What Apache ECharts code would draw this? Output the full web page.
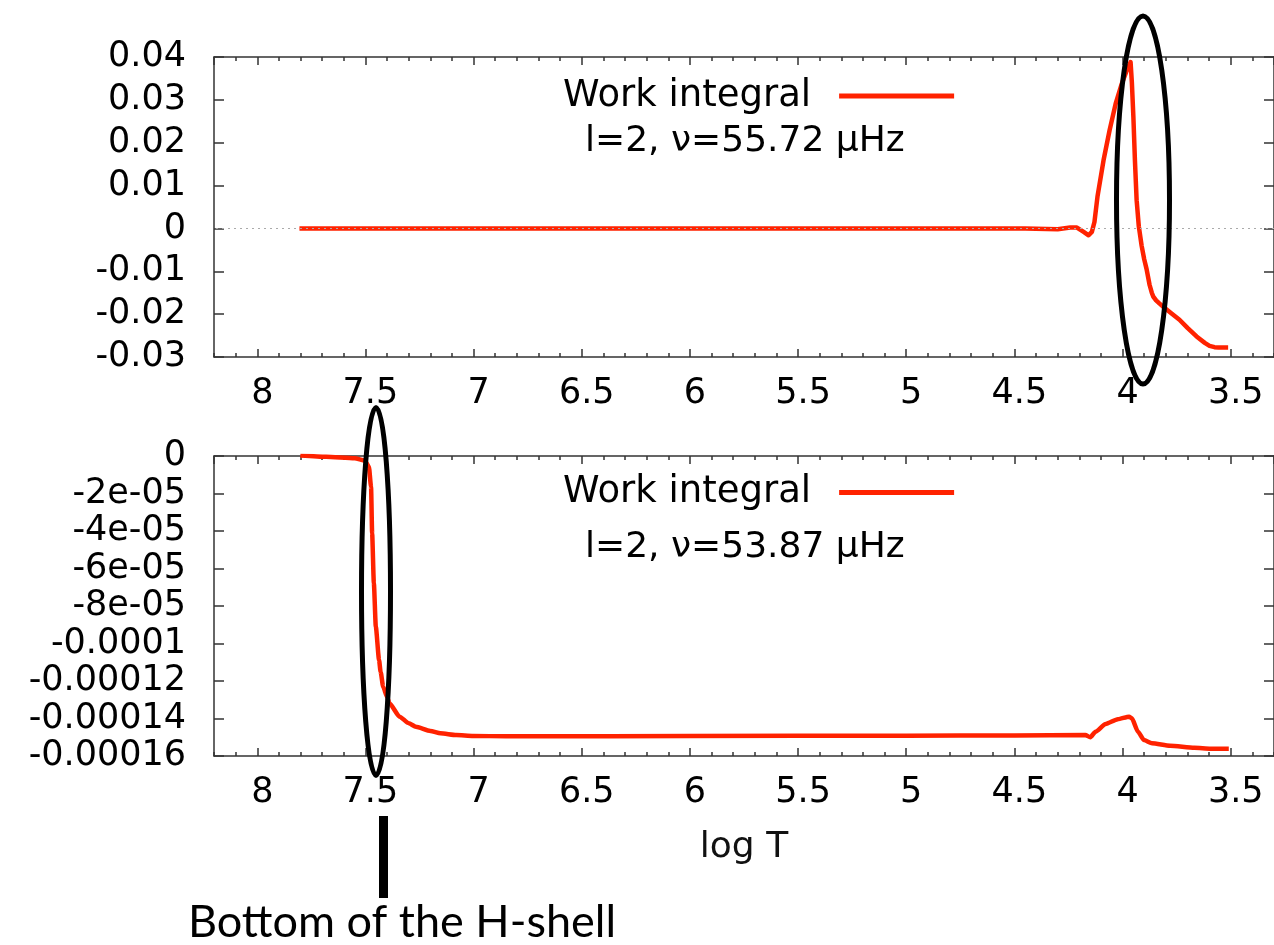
<!DOCTYPE html>
<html>
<head>
<meta charset="utf-8">
<script src="https://cdn.jsdelivr.net/npm/echarts@6/dist/echarts.min.js"></script>
<style>
html,body{margin:0;padding:0;background:#fff;}
#chart{width:1274px;height:945px;}
</style>
</head>
<body>
<div id="chart"></div>
<script>
// ---- data ----
const topLogT = [7.805, 7.5, 7.0, 6.5, 6.0, 5.5, 5.0, 4.6, 4.45, 4.40, 4.30, 4.242, 4.211, 4.18, 4.157, 4.142, 4.130, 4.116, 4.088, 4.060, 4.032, 4.004, 3.981, 3.963, 3.957, 3.950, 3.943, 3.935, 3.925, 3.912, 3.900, 3.889, 3.875, 3.865, 3.858, 3.845, 3.830, 3.812, 3.775, 3.737, 3.70, 3.658, 3.62, 3.598, 3.575, 3.556, 3.512];
const topWork = [0, 0, 0, 0, 0, 0, 0, 0, 0, -0.0001, -0.0002, 0.0002, 0.0002, -0.0008, -0.0016, -0.0008, 0.0015, 0.0074, 0.0159, 0.0229, 0.0291, 0.0337, 0.0368, 0.0388, 0.034, 0.026, 0.016, 0.0066, 0.0005, -0.004, -0.0072, -0.0095, -0.0132, -0.0150, -0.0159, -0.0168, -0.0175, -0.0183, -0.0198, -0.0213, -0.0232, -0.0252, -0.0267, -0.0274, -0.0277, -0.0278, -0.0278];

const botLogT = [7.801, 7.682, 7.55, 7.503, 7.484, 7.474, 7.469, 7.461, 7.452, 7.437, 7.43, 7.418, 7.40, 7.389, 7.342, 7.30, 7.267, 7.20, 7.153, 7.08, 7.002, 6.85, 6.737, 6.0, 5.0, 4.5, 4.172, 4.149, 4.125, 4.078, 4.022, 3.97, 3.957, 3.929, 3.901, 3.864, 3.78, 3.668, 3.593, 3.509];
const botWork = [0.0000003, -0.0000004, -0.0000012, -0.0000025, -0.0000057, -0.0000164, -0.0000412, -0.0000679, -0.000091, -0.0001088, -0.000115, -0.000123, -0.0001285, -0.0001319, -0.000139, -0.0001425, -0.0001444, -0.0001466, -0.0001479, -0.0001488, -0.0001493, -0.0001495, -0.0001495, -0.0001493, -0.0001492, -0.0001490, -0.0001488, -0.00015, -0.000147, -0.0001429, -0.0001404, -0.000139, -0.0001399, -0.000147, -0.0001515, -0.0001532, -0.0001545, -0.0001556, -0.0001561, -0.0001561];

const xTickLabels = ['3.5', '4', '4.5', '5', '5.5', '6', '6.5', '7', '7.5', '8'];
const topYTickLabels = ['-0.03', '-0.02', '-0.01', '0', '0.01', '0.02', '0.03', '0.04'];
const botYTickLabels = ['-0.00016', '-0.00014', '-0.00012', '-0.0001', '-8e-05', '-6e-05', '-4e-05', '-2e-05', '0'];

const seriesName = 'Work integral';
const topNote = 'l=2, \u03BD=55.72 \u03BCHz';
const botNote = 'l=2, \u03BD=53.87 \u03BCHz';
const xName = 'log T';
const annotation = 'Bottom of the H-shell';

// ---- style ----
const X_MIN = 3.3, X_MAX = 8.2;
const RED = '#ff2200';
const FRAME = { color: '#333', width: 1.5 };
const LABEL_FONT = 'DejaVu Sans';

const chart = echarts.init(document.getElementById('chart'), null, { renderer: 'canvas' });

function xAxesFor(g, withName) {
  const base = { type: 'value', gridIndex: g, min: X_MIN, max: X_MAX, inverse: true, splitLine: { show: false } };
  const major = {
    ...base, minInterval: 0.5, maxInterval: 0.5, splitNumber: 10,
    axisLine: { show: true, onZero: false, lineStyle: FRAME },
    axisTick: { show: true, inside: true, length: 8, lineStyle: FRAME }
  };
  const minor = {
    ...base, interval: 0.1,
    axisLine: { show: false, onZero: false },
    axisTick: { show: true, inside: true, length: 4, lineStyle: FRAME },
    axisLabel: { show: false }
  };
  const bottom = {
    ...major, position: 'bottom',
    axisLabel: {
      show: true, showMinLabel: false, showMaxLabel: false, margin: 19,
      fontFamily: LABEL_FONT, fontSize: 35, color: '#000', padding: [0, 0, 0, 10],
      formatter: v => xTickLabels[Math.round((v - 3.5) / 0.5)] || ''
    }
  };
  if (withName) {
    Object.assign(bottom, {
      name: xName, nameLocation: 'middle', nameGap: 74,
      nameTextStyle: { fontFamily: LABEL_FONT, fontSize: 36, color: '#111' }
    });
  }
  return [
    bottom,
    { ...minor, position: 'bottom' },
    { ...major, position: 'top', axisLabel: { show: false } },
    { ...minor, position: 'top' }
  ];
}

function yAxesFor(g, min, max, interval, labels) {
  const base = { type: 'value', gridIndex: g, min: min, max: max, interval: interval, splitLine: { show: false },
    axisLine: { show: true, onZero: false, lineStyle: FRAME },
    axisTick: { show: true, inside: true, length: 10, lineStyle: FRAME } };
  return [
    { ...base, position: 'left',
      axisLabel: { show: true, margin: 28, fontFamily: LABEL_FONT, fontSize: 35, color: '#000',
        formatter: v => labels[Math.round((v - min) / interval)] || '' } },
    { ...base, position: 'right', axisLabel: { show: false } }
  ];
}

function pairs(xs, ys) { return xs.map((x, i) => [x, ys[i]]); }

const legendBase = {
  data: [seriesName], selectedMode: false, padding: 0, align: 'right', icon: 'rect',
  itemWidth: 115, itemHeight: 5, left: 563,
  textStyle: { fontFamily: LABEL_FONT, fontSize: 37, color: '#000', padding: [0, 23, 0, 0] }
};

const option = {
  animation: false,
  backgroundColor: '#fff',
  grid: [
    { left: 214, right: -4, top: 57, height: 300 },
    { left: 214, right: -4, top: 456, height: 300 }
  ],
  legend: [
    { ...legendBase, top: 77.5 },
    { ...legendBase, top: 474 }
  ],
  xAxis: [...xAxesFor(0, false), ...xAxesFor(1, true)],
  yAxis: [...yAxesFor(0, -0.03, 0.04, 0.01, topYTickLabels), ...yAxesFor(1, -0.00016, 0, 0.00002, botYTickLabels)],
  series: [
    { name: 'zero', type: 'line', xAxisIndex: 0, yAxisIndex: 0, data: [], z: 1, silent: true,
      markLine: { silent: true, symbol: ['none', 'none'], label: { show: false },
        lineStyle: { type: [2, 4], color: '#aaa', width: 1 }, data: [{ yAxis: 0 }] } },
    { name: seriesName, type: 'line', xAxisIndex: 0, yAxisIndex: 0, data: pairs(topLogT, topWork),
      showSymbol: false, symbol: 'none', z: 3, color: RED, lineStyle: { color: RED, width: 4.5, join: 'round' } },
    { name: seriesName, type: 'line', xAxisIndex: 4, yAxisIndex: 2, data: pairs(botLogT, botWork),
      smooth: 0.2, smoothMonotone: 'x',
      showSymbol: false, symbol: 'none', z: 3, color: RED, lineStyle: { color: RED, width: 4.5, join: 'round' } }
  ],
  graphic: [
    { type: 'text', z: 10, style: { text: topNote, x: 585, y: 142, font: '36px "DejaVu Sans"', fill: '#000', align: 'left', verticalAlign: 'middle' } },
    { type: 'text', z: 10, style: { text: botNote, x: 585, y: 548, font: '36px "DejaVu Sans"', fill: '#000', align: 'left', verticalAlign: 'middle' } },
    { type: 'ellipse', z: 20, shape: { cx: 1143, cy: 200, rx: 26.5, ry: 184 }, style: { fill: 'none', stroke: '#000', lineWidth: 5 } },
    { type: 'ellipse', z: 20, shape: { cx: 376, cy: 591.5, rx: 14.5, ry: 184 }, style: { fill: 'none', stroke: '#000', lineWidth: 5 } },
    { type: 'rect', z: 20, shape: { x: 379, y: 816, width: 9, height: 82 }, style: { fill: '#000' } },
    { type: 'text', z: 20, style: { text: annotation, x: 188, y: 922, font: '45px Lato', fill: '#000', align: 'left', verticalAlign: 'middle' } }
  ]
};

chart.setOption(option);
</script>
</body>
</html>
